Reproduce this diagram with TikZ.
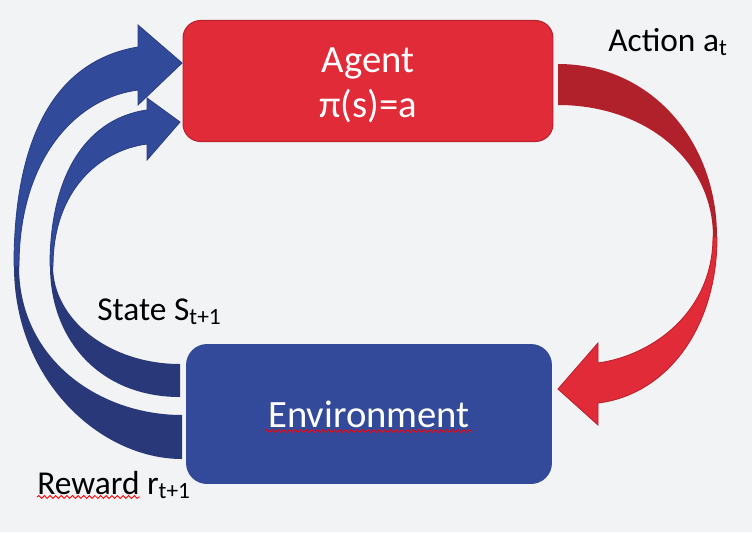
\documentclass[tikz,border=0pt]{standalone}
\usepackage{fontspec}
\setmainfont{Carlito}
\usetikzlibrary{decorations.pathmorphing}
\definecolor{bgcol}{HTML}{F2F3F5}
\definecolor{agentred}{HTML}{E22B38}
\definecolor{darkred}{HTML}{B1212B}
\definecolor{edgered}{HTML}{B8232E}
\definecolor{envblue}{HTML}{334A9A}
\definecolor{arrowblue}{HTML}{324A9A}
\definecolor{edgeblue}{HTML}{2A3F86}
\definecolor{darkblue}{HTML}{283878}
\tikzset{
	boxtext/.style={text=white, align=center, font=\fontsize{22}{25.5}\selectfont},
	lbl/.style={anchor=base west, inner sep=0pt, font=\fontsize{19}{22}\selectfont},
	squiggle/.style={draw=red, line width=0.5pt, decorate, decoration={snake, segment length=3.2pt, amplitude=0.8pt}}
}
\begin{document}
\begin{tikzpicture}[x=0.02cm,y=-0.02cm]
	\fill[bgcol] (0,0) rectangle (752,532);
	\useasboundingbox (0,0) rectangle (752,532);

	% boxes
	\node[fill=agentred, draw=edgered, line width=0.6pt, rounded corners=0.35cm,
		minimum width=7.4cm, minimum height=2.42cm] (agent) at (368,81) {};
	\node[boxtext] (agenttext) at ([yshift=-2.3pt]agent.center) {Agent\\π(s)=a};
	\node[boxtext, fill=envblue, rounded corners=0.42cm,
		minimum width=7.32cm, minimum height=2.8cm] (env) at (369,414) {Environment};

	% action arrow
	\fill[darkred] (558,64) .. controls (650,64) and (717,140) .. (717,237) -- (713,237) .. controls (713,160) and (645,105) .. (558,105) -- cycle;
	\filldraw[fill=agentred, draw=edgered, line width=0.5pt] (717,237) .. controls (717,330) and (665,395) .. (598,403) -- (598,425) -- (558,389) -- (598,343) -- (598,363) .. controls (655,355) and (713,310) .. (713,237) -- cycle;

	% reward arrow
	\fill[darkblue] (14,266) .. controls (14,380) and (100,459) .. (182,459) -- (182,415) .. controls (100,415) and (19,360) .. (19,266) -- cycle;
	\filldraw[fill=arrowblue, draw=edgeblue, line width=0.5pt] (14,266) .. controls (14,130) and (60,60) .. (138,47) -- (138,25) -- (182,63) -- (138,105) -- (138,90) .. controls (75,98) and (19,160) .. (19,266) -- cycle;

	% state arrow
	\fill[darkblue] (50,266) .. controls (50,340) and (100,397) .. (180,397) -- (180,364) .. controls (110,364) and (53,320) .. (53,266) -- cycle;
	\filldraw[fill=arrowblue, draw=edgeblue, line width=0.5pt] (50,266) .. controls (50,170) and (90,118) .. (147,110) -- (147,98) -- (180,122) -- (147,160) -- (147,144) .. controls (100,150) and (53,190) .. (53,266) -- cycle;

	% labels
	\node[lbl] (action) at (608,51) {Action a\textsubscript{t}};
	\node[lbl] (state) at (97,320) {State S\textsubscript{t+1}};
	\node[lbl] (reward) at (37,494) {Reward r\textsubscript{t+1}};
	\draw[squiggle] (37,497) -- (140,497);
	\draw[squiggle] (265,431) -- (472,431);
\end{tikzpicture}
\end{document}
